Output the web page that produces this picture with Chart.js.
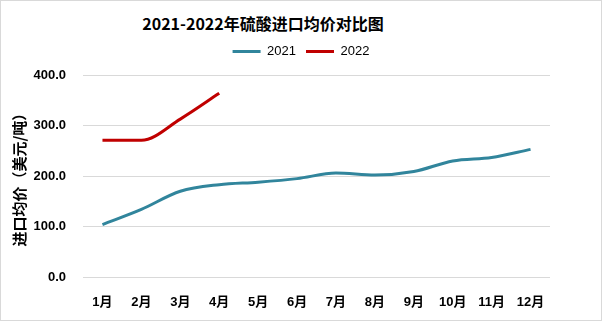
<!DOCTYPE html>
<html lang="zh">
<head>
    <meta charset="UTF-8">
    <title>2021-2022年硫酸进口均价对比图</title>
    <script src="https://cdn.jsdelivr.net/npm/chart.js"></script>
    <style>
        body {
            margin: 0;
            padding: 0;
            background: #ffffff;
            font-family: "Liberation Sans", "Noto Sans CJK SC", sans-serif;
        }

        .chart-box {
            position: relative;
            width: 602px;
            height: 321px;
            border: 1px solid #d9d9d9;
            box-sizing: border-box;
            background: #ffffff;
        }

        .chart-title {
            position: absolute;
            top: 10px;
            left: 0;
            width: 524px;
            text-align: center;
            font-family: "Noto Sans CJK SC", sans-serif;
            font-weight: bold;
            font-size: 16px;
            line-height: 24px;
            color: #000000;
        }

        canvas {
            position: absolute;
            left: 0;
            top: 0;
        }
    </style>
</head>
<body>

    <div class="chart-box">
        <div class="chart-title">2021-2022年硫酸进口均价对比图</div>
        <canvas id="priceChart" width="600" height="319"></canvas>
    </div>

    <script>
        // chart data
        const months = ['1月', '2月', '3月', '4月', '5月', '6月', '7月', '8月', '9月', '10月', '11月', '12月'];
        const price2021 = [104, 134, 170, 183, 188, 195, 206, 202, 209, 230, 237, 253];
        const price2022 = [271, 271, 313, 364, null, null, null, null, null, null, null, null];
        const yTicks = [0, 100, 200, 300, 400];

        const fontFamily = '"Liberation Sans", "Noto Sans CJK SC", sans-serif';

        const ctx = document.getElementById('priceChart').getContext('2d');
        new Chart(ctx, {
            type: 'line',
            data: {
                labels: months,
                datasets: [
                    {
                        label: '2021',
                        data: price2021,
                        borderColor: '#31859c',
                        backgroundColor: '#31859c',
                        borderWidth: 3,
                        pointRadius: 0,
                        cubicInterpolationMode: 'monotone'
                    },
                    {
                        label: '2022',
                        data: price2022,
                        borderColor: '#c00000',
                        backgroundColor: '#c00000',
                        borderWidth: 3,
                        pointRadius: 0,
                        cubicInterpolationMode: 'monotone'
                    }
                ]
            },
            options: {
                responsive: false,
                animation: false,
                layout: {
                    padding: { top: 34, right: 0, left: 0, bottom: 0 }
                },
                plugins: {
                    title: { display: false },
                    tooltip: { enabled: false },
                    // empty spacer between legend and plot area
                    subtitle: {
                        display: true,
                        text: '',
                        position: 'top',
                        weight: 500,
                        font: { size: 1 },
                        padding: { top: 6, bottom: 0 }
                    },
                    legend: {
                        display: true,
                        position: 'top',
                        labels: {
                            usePointStyle: true,
                            pointStyle: 'line',
                            pointStyleWidth: 28,
                            boxWidth: 28,
                            boxHeight: 3,
                            padding: 10,
                            color: '#000000',
                            font: { family: fontFamily, size: 13 }
                        }
                    }
                },
                scales: {
                    x: {
                        offset: true,
                        grid: { display: false },
                        border: { display: false },
                        ticks: {
                            color: '#000000',
                            padding: 10,
                            maxRotation: 0,
                            font: { family: fontFamily, size: 13, weight: 'bold' }
                        },
                        afterFit: scale => { scale.height = 43; }
                    },
                    y: {
                        min: 0,
                        max: 400,
                        afterBuildTicks: scale => {
                            scale.ticks = yTicks.map(v => ({ value: v }));
                        },
                        grid: { color: '#d9d9d9', drawTicks: false },
                        border: { display: false },
                        ticks: {
                            color: '#000000',
                            padding: 17,
                            callback: v => Number(v).toFixed(1),
                            font: { family: fontFamily, size: 13, weight: 'bold' }
                        },
                        title: {
                            display: true,
                            text: '进口均价（美元/吨）',
                            color: '#000000',
                            padding: { top: 9, bottom: 0 },
                            font: { family: '"Noto Sans CJK SC", sans-serif', size: 15, weight: 'bold' }
                        },
                        afterFit: scale => { scale.width = 82; }
                    },
                    // empty right-hand space so the legend stays centred on the whole chart
                    yRight: {
                        position: 'right',
                        display: true,
                        grid: { display: false },
                        border: { display: false },
                        ticks: { display: false },
                        afterFit: scale => { scale.width = 51; }
                    }
                }
            }
        });
    </script>

</body>
</html>
